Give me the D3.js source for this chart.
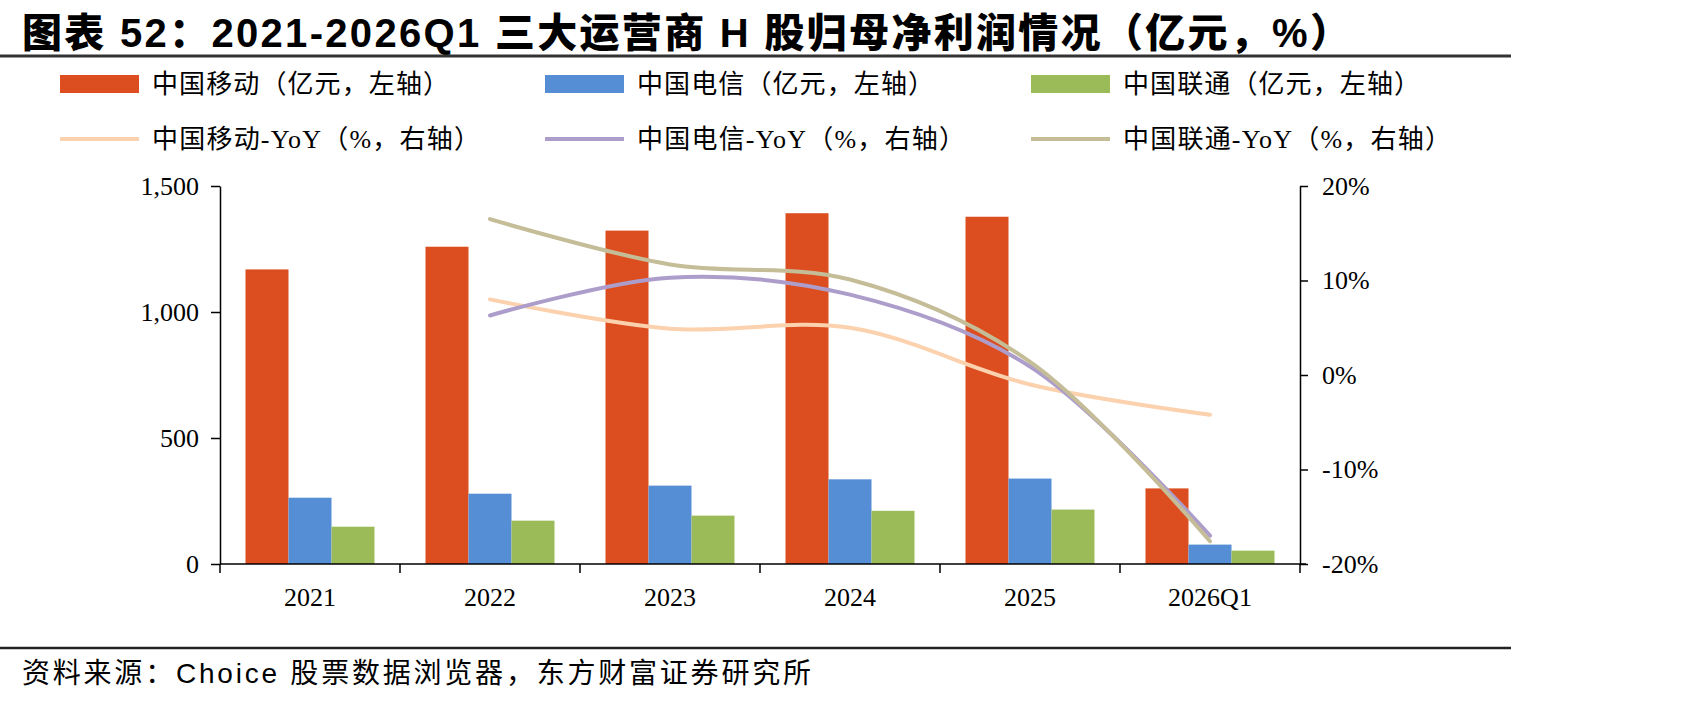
<!DOCTYPE html>
<html>
<head>
<meta charset="utf-8">
<script src="https://cdn.jsdelivr.net/npm/d3@7"></script>
<style>
  body { margin: 0; background: #fff; }
  text { fill: #000; }
  .tick text { font-family: "Liberation Serif", "Times New Roman", serif; font-size: 26px; }
  .lg { font-family: "Liberation Serif", "Noto Sans CJK SC", serif; font-size: 26px; }
</style>
</head>
<body>
<div id="visual"></div>
<script>
// data
var categories = ["2021", "2022", "2023", "2024", "2025", "2026Q1"];
var mobileProfit = [1169, 1259, 1323, 1392, 1378, 300];
var telecomProfit = [263, 279, 311, 336, 339, 77];
var unicomProfit = [148, 172, 192, 211, 216, 53];
var mobileYoY = [null, 8.0, 4.9, 5.0, -1.0, -4.2];
var telecomYoY = [null, 6.3, 10.3, 8.5, 0.9, -17.0];
var unicomYoY = [null, 16.5, 11.7, 10.1, 1.4, -17.6];
var leftTicks = [0, 500, 1000, 1500];
var rightTicks = [-20, -10, 0, 10, 20];

var barSeries = [
    { name: "中国移动（亿元，左轴）", values: mobileProfit, color: "#DC4E1F" },
    { name: "中国电信（亿元，左轴）", values: telecomProfit, color: "#558ED5" },
    { name: "中国联通（亿元，左轴）", values: unicomProfit, color: "#9BBB59" }
];
var lineSeries = [
    { name: "中国移动-YoY（%，右轴）", values: mobileYoY, color: "#FCD1AE" },
    { name: "中国电信-YoY（%，右轴）", values: telecomYoY, color: "#AD9DCB" },
    { name: "中国联通-YoY（%，右轴）", values: unicomYoY, color: "#C4BD97" }
];

var width = 1701, height = 701;
var plot = { left: 220, right: 1300, top: 186, bottom: 564 };

var svg = d3.select("#visual").append("svg")
    .attr("width", width)
    .attr("height", height)
    .style("display", "block");

svg.append("rect").attr("width", width).attr("height", height).attr("fill", "#fff");

// title
svg.append("text")
    .attr("x", 22)
    .attr("y", 47)
    .attr("textLength", 1328)
    .attr("lengthAdjust", "spacing")
    .style("font-family", "'Liberation Sans', 'Noto Sans CJK SC', sans-serif")
    .style("font-weight", 900)
    .style("font-size", "40px")
    .text("图表 52：2021-2026Q1 三大运营商 H 股归母净利润情况（亿元，%）");

svg.append("line")
    .attr("x1", 0).attr("x2", 1511)
    .attr("y1", 56).attr("y2", 56)
    .attr("stroke", "#333").attr("stroke-width", 3);

svg.append("line")
    .attr("x1", 0).attr("x2", 1511)
    .attr("y1", 648).attr("y2", 648)
    .attr("stroke", "#222").attr("stroke-width", 2.5);

svg.append("text")
    .attr("x", 22)
    .attr("y", 683)
    .attr("textLength", 789)
    .attr("lengthAdjust", "spacing")
    .style("font-family", "'Liberation Sans', 'Noto Sans CJK SC', sans-serif")
    .style("font-size", "28px")
    .text("资料来源：Choice 股票数据浏览器，东方财富证券研究所");

// scales
var x = d3.scaleBand()
    .domain(categories)
    .range([plot.left, plot.right])
    .padding(0);

var x1 = d3.scaleBand()
    .domain(d3.range(barSeries.length))
    .range([25.5, x.bandwidth() - 25.5])
    .padding(0);

var yL = d3.scaleLinear()
    .domain([0, 1500])
    .range([plot.bottom, plot.top]);

var yR = d3.scaleLinear()
    .domain([-20, 20])
    .range([plot.bottom, plot.top]);

// bars
var group = svg.selectAll(".cat")
    .data(categories)
  .enter().append("g")
    .attr("class", "cat")
    .attr("transform", function (d) { return "translate(" + x(d) + ",0)"; });

group.selectAll("rect")
    .data(function (d, i) {
        return barSeries.map(function (s, j) { return { j: j, v: s.values[i], color: s.color }; });
    })
  .enter().append("rect")
    .attr("x", function (d) { return x1(d.j); })
    .attr("y", function (d) { return yL(d.v); })
    .attr("width", x1.bandwidth())
    .attr("height", function (d) { return yL(0) - yL(d.v); })
    .attr("fill", function (d) { return d.color; });

// lines
var line = d3.line()
    .defined(function (d) { return d != null; })
    .curve(d3.curveCatmullRom.alpha(0.5))
    .x(function (d, i) { return x(categories[i]) + x.bandwidth() / 2; })
    .y(function (d) { return yR(d); });

lineSeries.forEach(function (s) {
    svg.append("path")
        .datum(s.values)
        .attr("fill", "none")
        .attr("stroke", s.color)
        .attr("stroke-width", 4)
        .attr("stroke-linecap", "round")
        .attr("d", line);
});

// axes
var leftAxis = svg.append("g")
    .attr("transform", "translate(" + plot.left + ",0)")
    .call(d3.axisLeft(yL).tickValues(leftTicks).tickFormat(d3.format(",")).tickSize(9).tickSizeOuter(0).tickPadding(12));

var rightAxis = svg.append("g")
    .attr("transform", "translate(" + plot.right + ",0)")
    .call(d3.axisRight(yR).tickValues(rightTicks).tickFormat(function (d) { return d + "%"; }).tickSize(8).tickSizeOuter(0).tickPadding(14));

var bottomAxis = svg.append("g")
    .attr("transform", "translate(0," + plot.bottom + ")")
    .call(d3.axisBottom(x).tickSize(0).tickPadding(24));

bottomAxis.select(".domain").remove();

// category boundary ticks
var bounds = categories.map(function (c) { return x(c); }).concat([x.range()[1]]);
svg.append("g").selectAll("line")
    .data(bounds)
  .enter().append("line")
    .attr("x1", function (d) { return d; })
    .attr("x2", function (d) { return d; })
    .attr("y1", plot.bottom)
    .attr("y2", plot.bottom + 9)
    .attr("stroke", "#000")
    .attr("stroke-width", 1.5);

svg.append("line")
    .attr("x1", plot.left).attr("x2", plot.right + 6)
    .attr("y1", plot.bottom).attr("y2", plot.bottom)
    .attr("stroke", "#000").attr("stroke-width", 1.5);

svg.selectAll(".domain").attr("stroke", "#000").attr("stroke-width", 1.5);
svg.selectAll(".tick line").attr("stroke", "#000").attr("stroke-width", 1.5);

// legend
var legendCols = [60, 545, 1031];
var legendRows = [84, 139];

barSeries.forEach(function (s, i) {
    var g = svg.append("g").attr("transform", "translate(" + legendCols[i] + "," + legendRows[0] + ")");
    g.append("rect").attr("x", 0).attr("y", -9).attr("width", 79).attr("height", 18).attr("fill", s.color);
    g.append("text").attr("class", "lg").attr("x", 92).attr("y", 9)
        .attr("textLength", 297).attr("lengthAdjust", "spacing").text(s.name);
});

lineSeries.forEach(function (s, i) {
    var g = svg.append("g").attr("transform", "translate(" + legendCols[i] + "," + legendRows[1] + ")");
    g.append("line").attr("x1", 0).attr("x2", 79).attr("y1", 0).attr("y2", 0)
        .attr("stroke", s.color).attr("stroke-width", 4);
    g.append("text").attr("class", "lg").attr("x", 92).attr("y", 9)
        .attr("textLength", 328).attr("lengthAdjust", "spacing").text(s.name);
});
</script>
</body>
</html>
